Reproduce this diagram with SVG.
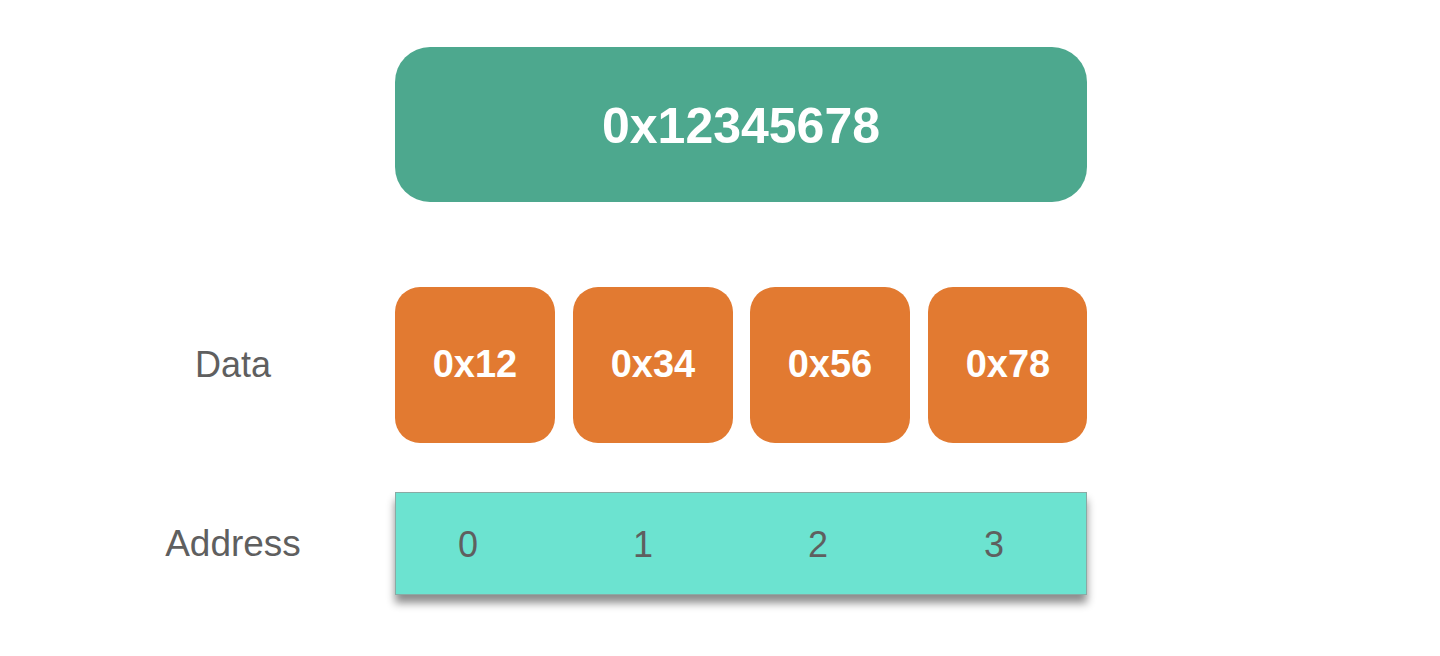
<svg xmlns="http://www.w3.org/2000/svg" width="1440" height="656" viewBox="0 0 1440 656">
  <defs>
    <filter id="shadow" x="-10%" y="-20%" width="120%" height="160%">
      <feDropShadow dx="0" dy="8" stdDeviation="4" flood-color="#000" flood-opacity="0.45"/>
    </filter>
    <style>
      .word { fill: #8bc8ba; }
      .bold { font-family: "Liberation Sans", Arial, sans-serif; font-weight: bold; fill: #ffffff; text-anchor: middle; }
      .label { font-family: "Liberation Sans", Arial, sans-serif; fill: #5f5f5f; text-anchor: middle; }
      .byte { fill: #e27a31; }
    </style>
  </defs>
  <rect width="1440" height="656" fill="#ffffff"/>

  <g id="word">
    <rect x="395" y="47" width="692" height="155" rx="35" ry="35" fill="#4da88e"/>
    <text class="bold" x="741" y="143" font-size="50">0x12345678</text>
  </g>

  <g id="data-label">
    <text class="label" x="233" y="377" font-size="36">Data</text>
  </g>
  <g id="address-label">
    <text class="label" x="233" y="556" font-size="37">Address</text>
  </g>

  <g id="byte0">
    <rect class="byte" x="395" y="287" width="160" height="156" rx="25" ry="25"/>
    <text class="bold" x="475" y="377" font-size="38">0x12</text>
  </g>
  <g id="byte1">
    <rect class="byte" x="573" y="287" width="160" height="156" rx="25" ry="25"/>
    <text class="bold" x="653" y="377" font-size="38">0x34</text>
  </g>
  <g id="byte2">
    <rect class="byte" x="750" y="287" width="160" height="156" rx="25" ry="25"/>
    <text class="bold" x="830" y="377" font-size="38">0x56</text>
  </g>
  <g id="byte3">
    <rect class="byte" x="928" y="287" width="159" height="156" rx="25" ry="25"/>
    <text class="bold" x="1008" y="377" font-size="38">0x78</text>
  </g>

  <g id="address-bar">
    <rect x="395.5" y="492.5" width="691" height="102" fill="#6ce3d0" stroke="#8aaaa4" stroke-width="1" filter="url(#shadow)"/>
    <text class="label" x="468" y="557" font-size="36">0</text>
    <text class="label" x="643" y="557" font-size="36">1</text>
    <text class="label" x="818" y="557" font-size="36">2</text>
    <text class="label" x="994" y="557" font-size="36">3</text>
  </g>

  <g id="connectors"></g>
</svg>
